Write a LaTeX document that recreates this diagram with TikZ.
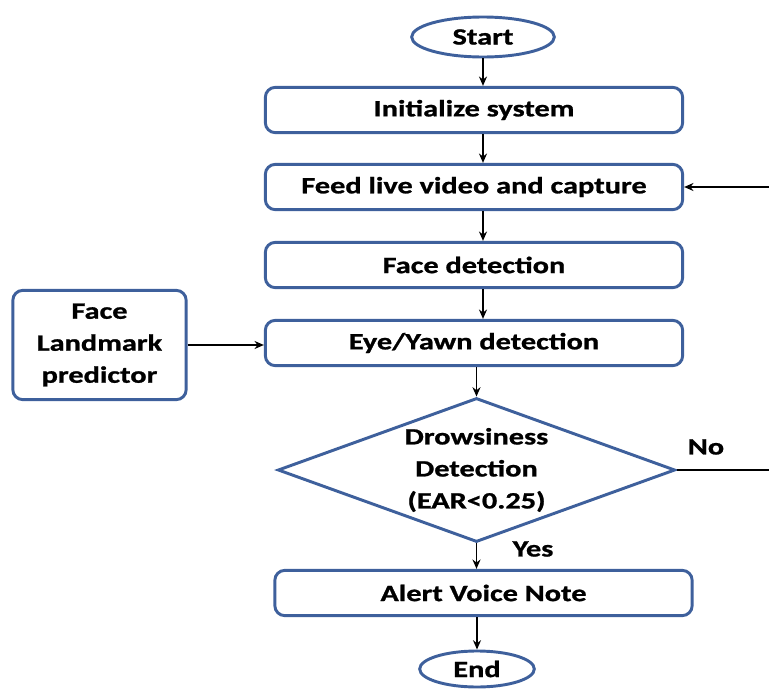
\documentclass[tikz,border=0pt]{standalone}
\usepackage{fontspec}
\setmainfont{Carlito}[FakeStretch=1.3,BoldFeatures={FakeBold=1}]
\usetikzlibrary{shapes.geometric,arrows.meta}
\definecolor{bordblue}{HTML}{3E609C}
\begin{document}
\begin{tikzpicture}[x=0.75pt,y=-0.75pt,
  font=\bfseries\fontsize{17.5}{24}\selectfont,
  procbox/.style={draw=bordblue,line width=2.2pt,rounded corners=7.5pt,fill=white,inner sep=0pt},
  termnode/.style={draw=bordblue,line width=2.2pt,ellipse,fill=white,inner sep=0pt},
  decnode/.style={draw=bordblue,line width=2.2pt,diamond,fill=white,inner sep=0pt},
  arr/.style={-{Stealth[length=7pt,width=6pt]},line width=1.4pt,black},
  ln/.style={line width=1.4pt,black}]
\useasboundingbox (0,0) rectangle (769,689);
\node[termnode,minimum width=107pt,minimum height=30pt] (start) at (483,37) {Start};
\node[procbox,minimum width=313pt,minimum height=34pt] (init) at (474,110) {Initialize system};
\node[procbox,minimum width=313pt,minimum height=34pt] (feed) at (474,187) {Feed live video and capture};
\node[procbox,minimum width=313pt,minimum height=34pt] (face) at (474,265) {Face detection};
\node[procbox,minimum width=313pt,minimum height=34pt] (eye) at (474,343) {Eye/Yawn detection};
\node[procbox,minimum width=130pt,minimum height=82pt,align=center] (land) at (99.5,345) {Face\\Landmark\\predictor};
\node[decnode,minimum width=298pt,minimum height=108pt] (dec) at (476.5,470) {};
\node[align=center,inner sep=0pt] (dectext) at (476.5,470) {Drowsiness\\Detection\\(EAR<0.25)};
\node[procbox,minimum width=313pt,minimum height=34pt] (alert) at (483.5,593) {Alert Voice Note};
\node[termnode,minimum width=86pt,minimum height=27pt] (end) at (477,669) {End};
\coordinate (feedin) at (769,187);
\coordinate (noout) at (769,470);
\node (yes) at (533,549) {Yes};
\node (no) at (706,447) {No};
\draw[arr] (start.south) -- (start.south |- init.north);
\draw[arr] (init.south -| start.south) -- (start.south |- feed.north);
\draw[arr] (feed.south -| start.south) -- (start.south |- face.north);
\draw[arr] (face.south -| start.south) -- (start.south |- eye.north);
\draw[arr] (eye.south -| dec.north) -- (dec.north);
\draw[arr] (land.east) -- (land.east -| eye.west);
\draw[arr] (feedin) -- (feed.east);
\draw[ln] (dec.east) -- (noout);
\draw[arr] (dec.south) -- (dec.south |- alert.north);
\draw[arr] (alert.south -| end.north) -- (end.north);
\end{tikzpicture}
\end{document}
